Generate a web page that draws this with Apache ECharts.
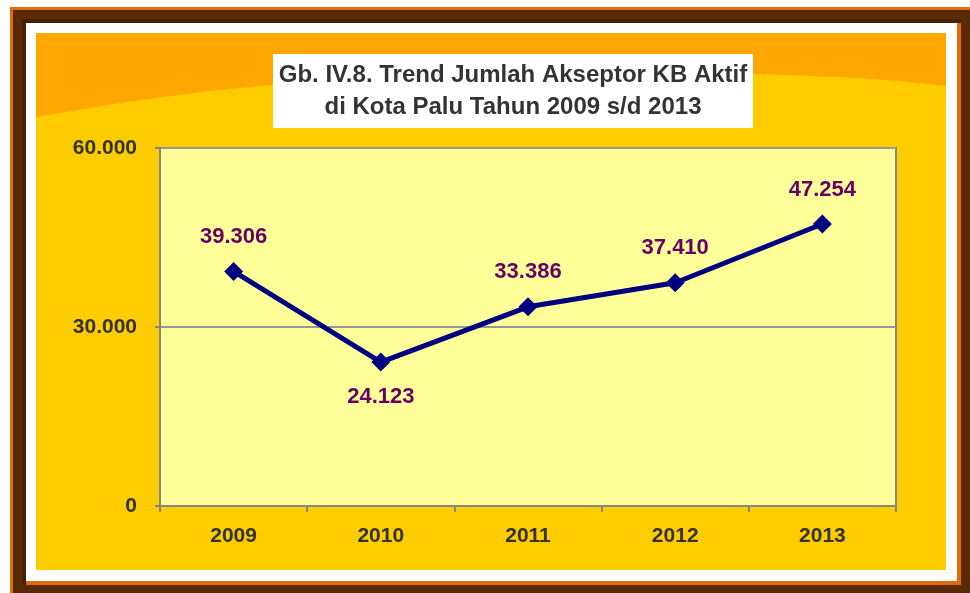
<!DOCTYPE html>
<html>
<head>
<meta charset="utf-8">
<style>
html,body{margin:0;padding:0;background:#ffffff;}
#chart{width:970px;height:593px;}
</style>
<script src="https://cdn.jsdelivr.net/npm/echarts@6/dist/echarts.min.js"></script>
</head>
<body>
<div id="chart"></div>
<script>
var categories = ['2009', '2010', '2011', '2012', '2013'];
var values = [39306, 24123, 33386, 37410, 47254];
var yTicks = [0, 30000, 60000];
var titleLines = ['Gb. IV.8. Trend Jumlah Akseptor KB Aktif', 'di Kota Palu Tahun 2009 s/d 2013'];

function fmt(v) {
  return String(v).replace(/\B(?=(\d{3})+(?!\d))/g, '.');
}

var chart = echarts.init(document.getElementById('chart'), null, {renderer: 'canvas'});
var font = 'Arial, "Liberation Sans", sans-serif';

var option = {
  animation: false,
  graphic: [
    {type: 'rect', z: -10, silent: true, shape: {x: 10, y: 7, width: 960, height: 586}, style: {fill: '#E36C09'}},
    {type: 'rect', z: -10, silent: true, shape: {x: 13, y: 10, width: 957, height: 583}, style: {fill: '#5A2A06'}},
    {type: 'rect', z: -10, silent: true, shape: {x: 22, y: 19, width: 939, height: 566}, style: {fill: '#452005'}},
    {type: 'rect', z: -10, silent: true, shape: {x: 26, y: 23, width: 935, height: 562}, style: {fill: '#E36C09'}},
    {type: 'rect', z: -10, silent: true, shape: {x: 26, y: 23, width: 931, height: 558}, style: {fill: '#ffffff'}},
    {type: 'rect', z: -10, silent: true, shape: {x: 36, y: 33, width: 910, height: 537}, style: {fill: '#FFCC00'}},
    {type: 'polygon', z: -9, silent: true, shape: {points: [[36,33],[946,33],[946,86],[900,81],[840,77],[760,74],[680,73],[600,74],[520,76],[440,78],[360,81],[280,84],[200,92],[120,103],[36,117]]}, style: {fill: '#FDA700'}},
    {type: 'rect', z: 10, silent: true, shape: {x: 273, y: 54, width: 480, height: 74}, style: {fill: '#ffffff'}},
    {type: 'text', z: 11, silent: true, x: 513, y: 91, style: {
      text: titleLines.join('\n'), fill: '#333333', font: 'bold 24px ' + font,
      align: 'center', verticalAlign: 'middle', lineHeight: 32
    }}
  ],
  grid: {
    left: 160, top: 148, right: 74, bottom: 87,
    show: true, backgroundColor: '#FFFF99', borderColor: '#868686', borderWidth: 2
  },
  xAxis: {
    type: 'category',
    data: categories,
    boundaryGap: true,
    axisLine: {lineStyle: {color: '#868686', width: 2}},
    axisTick: {show: true, length: 6, lineStyle: {color: '#868686', width: 2}},
    axisLabel: {color: '#333333', fontSize: 21, fontWeight: 'bold', fontFamily: font, margin: 20}
  },
  yAxis: {
    type: 'value',
    min: yTicks[0], max: yTicks[yTicks.length - 1], interval: yTicks[1] - yTicks[0],
    axisLine: {show: true, lineStyle: {color: '#868686', width: 2}},
    axisTick: {show: true, length: 5, lineStyle: {color: '#868686', width: 2}},
    splitLine: {show: true, lineStyle: {color: '#969696', width: 2}},
    axisLabel: {color: '#333333', fontSize: 21, fontWeight: 'bold', fontFamily: font, margin: 23,
      formatter: function (v) { return fmt(v); }}
  },
  series: [{
    type: 'line',
    data: values.map(function (v, i) {
      var item = {value: v};
      if (i > 0 && i < values.length - 1 && v < values[i - 1] && v < values[i + 1]) {
        item.label = {position: 'bottom'};
      }
      return item;
    }),
    symbol: 'diamond',
    symbolSize: 19,
    lineStyle: {color: '#000080', width: 5},
    itemStyle: {color: '#000080'},
    label: {
      show: true, position: 'top', distance: 14,
      color: '#660066', fontSize: 22, fontWeight: 'bold', fontFamily: font,
      formatter: function (p) { return fmt(p.value); }
    }
  }]
};
chart.setOption(option);
</script>
</body>
</html>
